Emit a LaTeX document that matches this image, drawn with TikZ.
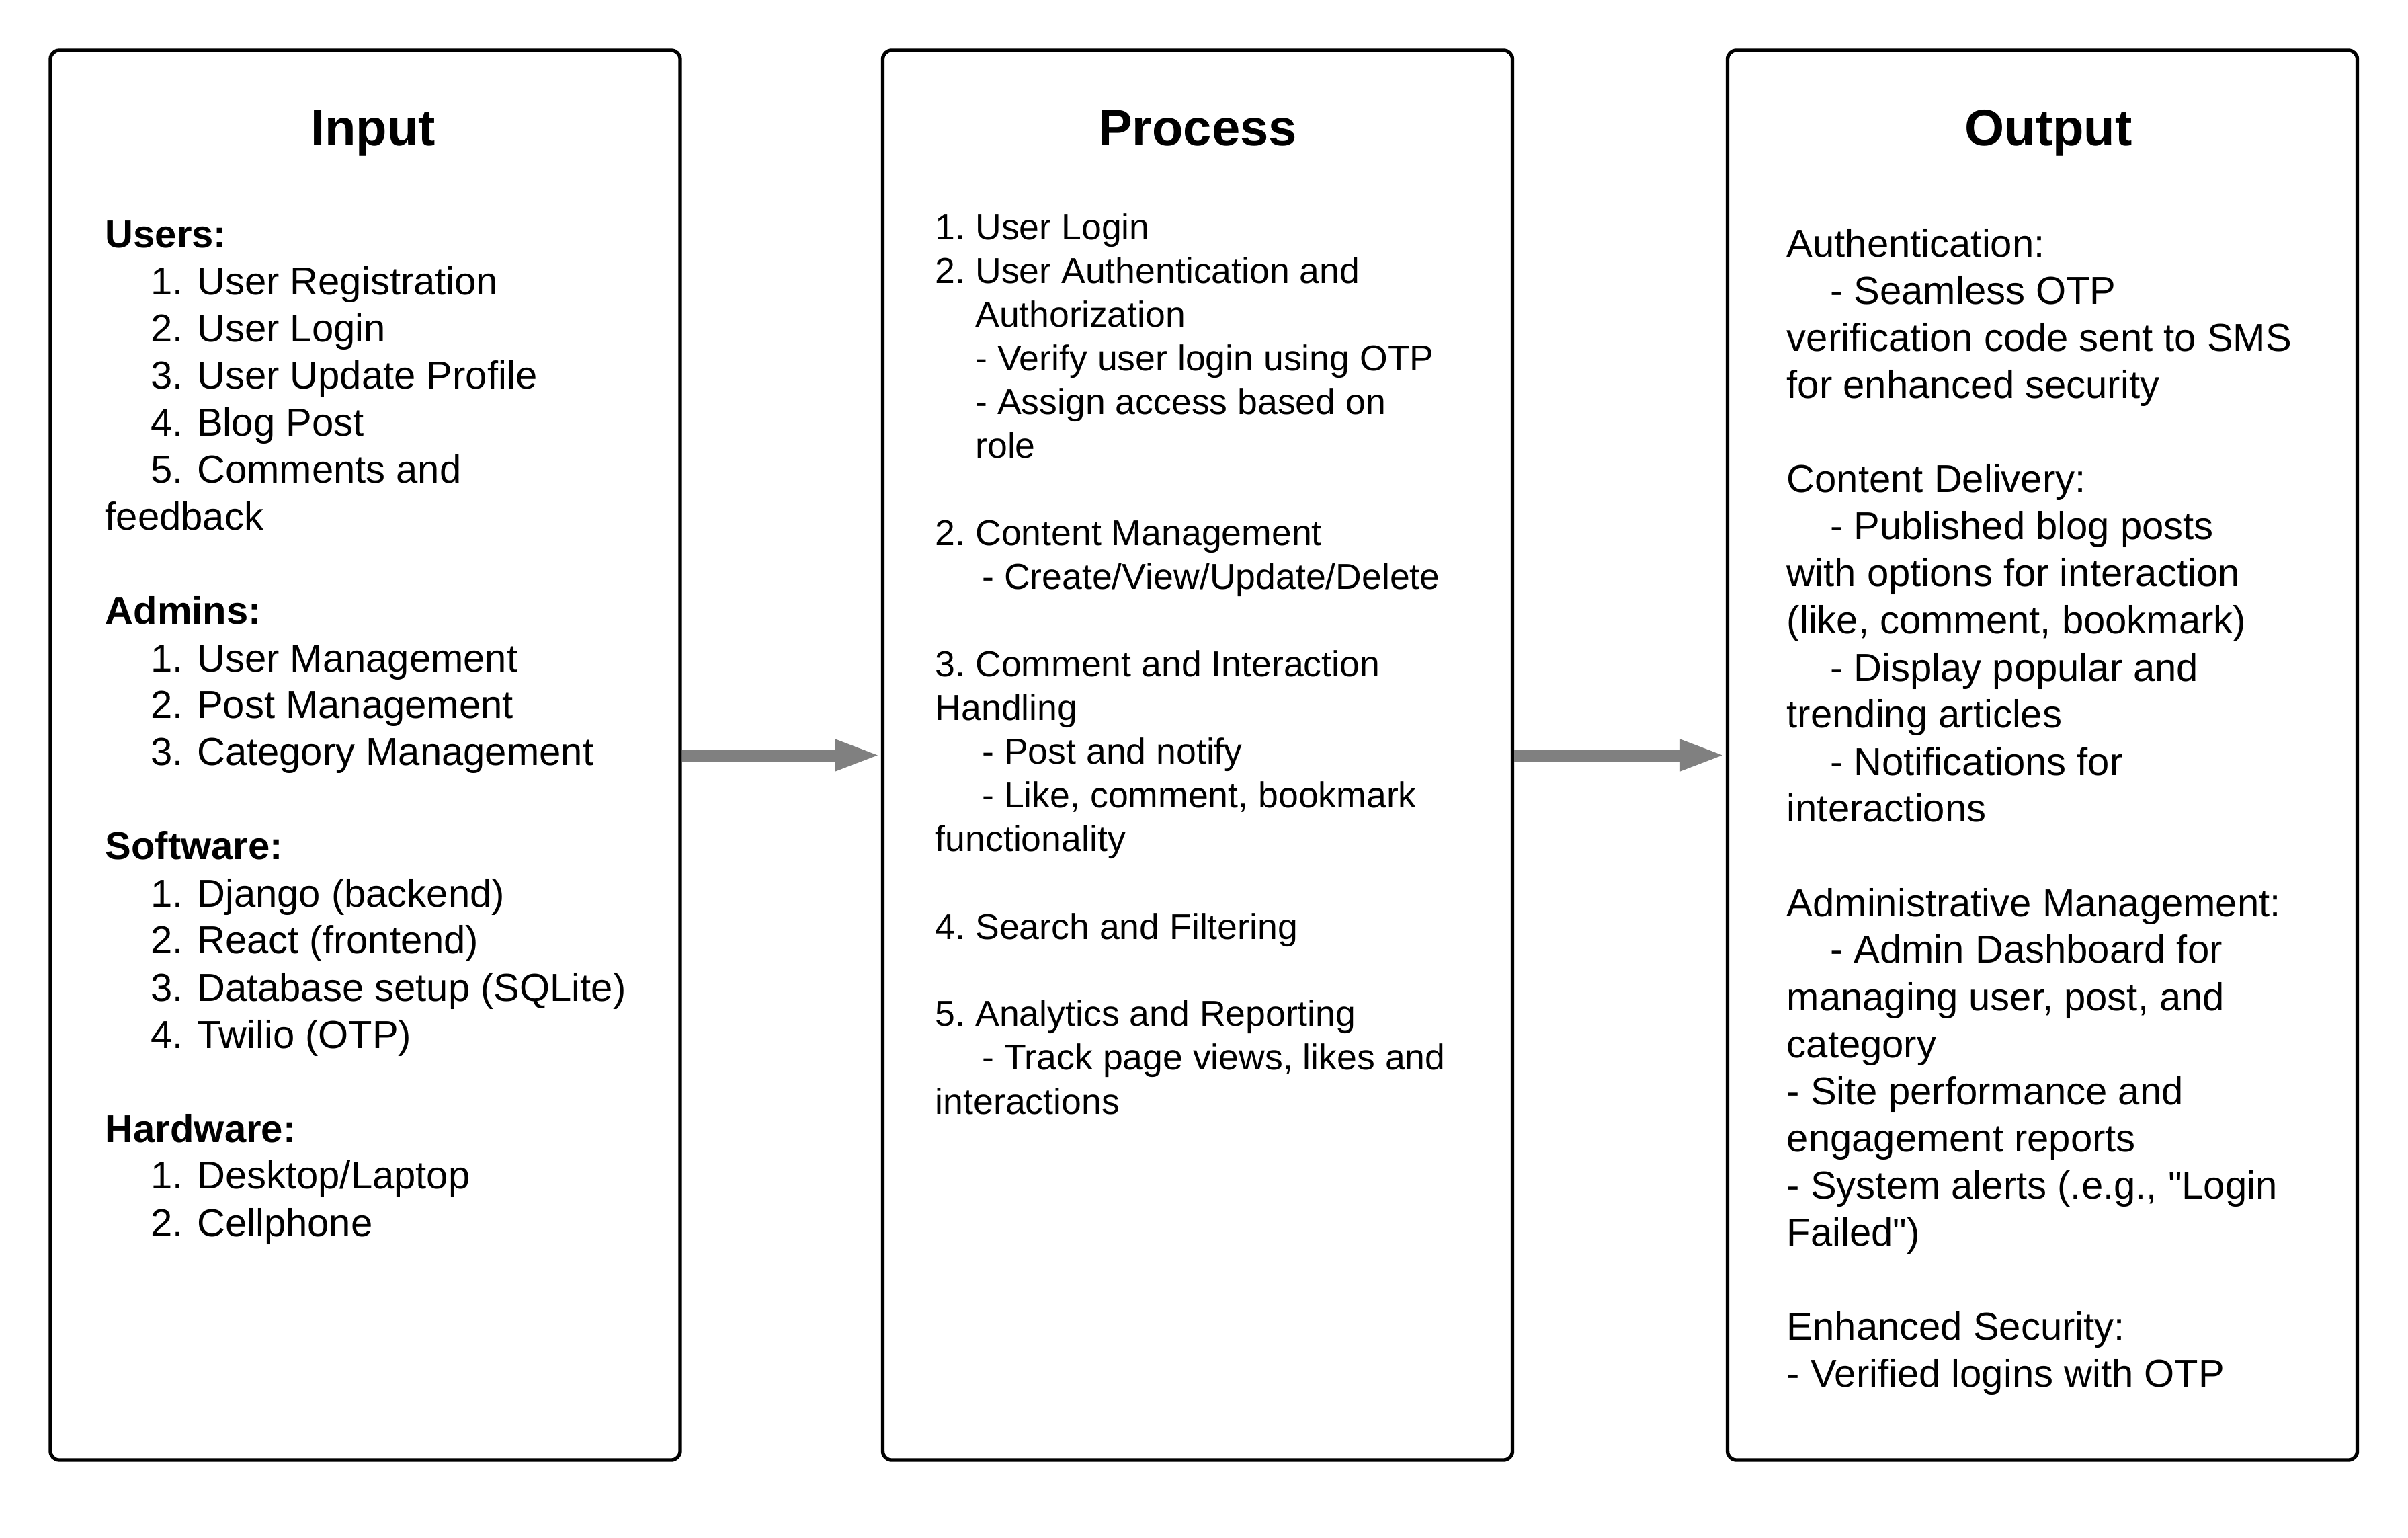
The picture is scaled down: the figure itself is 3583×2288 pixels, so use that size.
\documentclass[tikz,border=0pt]{standalone}
\usepackage{fontspec}
\setmainfont{Liberation Sans}
\usetikzlibrary{arrows.meta}
\definecolor{arrowgray}{RGB}{128,128,128}
\newcommand{\tline}[1]{\hbox{#1}}
\newcommand{\indA}{\kern4\fontdimen2\font}
\newcommand{\indB}{\kern17.4pt}
\newcommand{\indC}{\kern16.8pt}
\newcommand{\nsp}{\kern1.2pt}
\newcommand{\sq}{\XeTeXglyph\XeTeXcharglyph"22\relax}
\begin{document}
\frenchspacing
\begin{tikzpicture}[x=0.25pt,y=-0.25pt,
  panel/.style={draw=black, line width=1.33pt, rounded corners=3.3pt,
    minimum width=234.25pt, minimum height=524.25pt, inner sep=0pt},
  paneltitle/.style={anchor=base, inner sep=0pt, font=\bfseries\fontsize{19pt}{23pt}\selectfont},
  bodytext/.style={anchor=base west, inner sep=0pt},
  flow/.style={draw=arrowgray, line width=4.5pt, -{Triangle[length=17pt,width=10.5pt]}}]
\useasboundingbox (0,0) rectangle (3583,2288);

\node[panel] (inbox) at (543.5,1123.5) {};
\node[panel] (procbox) at (1782,1123.5) {};
\node[panel] (outbox) at (3039,1123.5) {};

\node[paneltitle] (intitle) at (555,217) {Input};
\node[paneltitle] (proctitle) at (1782,217) {Process};
\node[paneltitle] (outtitle) at (3048,217) {Output};

\node[bodytext] (inbody) at (156,369) {\fontsize{14.5pt}{17.5pt}\selectfont\frenchspacing\vtop{\lineskiplimit=-100pt
  \tline{\textbf{Users:}}
  \tline{\indC 1.\nsp{} User Registration}
  \tline{\indC 2.\nsp{} User Login}
  \tline{\indC 3.\nsp{} User Update Profile}
  \tline{\indC 4.\nsp{} Blog Post}
  \tline{\indC 5.\nsp{} Comments and}
  \tline{feedback}
  \tline{}
  \tline{\textbf{Admins:}}
  \tline{\indC 1.\nsp{} User Management}
  \tline{\indC 2.\nsp{} Post Management}
  \tline{\indC 3.\nsp{} Category Management}
  \tline{}
  \tline{\textbf{Software:}}
  \tline{\indC 1.\nsp{} Django (backend)}
  \tline{\indC 2.\nsp{} React (frontend)}
  \tline{\indC 3.\nsp{} Database setup (SQLite)}
  \tline{\indC 4.\nsp{} Twilio (OTP)}
  \tline{}
  \tline{\textbf{Hardware:}}
  \tline{\indC 1.\nsp{} Desktop/Laptop}
  \tline{\indC 2.\nsp{} Cellphone}}};

\node[bodytext] (procbody) at (1391,357) {\fontsize{13.4pt}{16.25pt}\selectfont\frenchspacing\vtop{\lineskiplimit=-100pt
  \tline{1. User Login}
  \tline{2. User Authentication and}
  \tline{\indA Authorization}
  \tline{\indA - Verify user login using OTP}
  \tline{\indA - Assign access based on}
  \tline{\indA role}
  \tline{}
  \tline{2. Content Management}
  \tline{\indB - Create/View/Update/Delete}
  \tline{}
  \tline{3. Comment and Interaction}
  \tline{Handling}
  \tline{\indB - Post and notify}
  \tline{\indB - Like, comment, bookmark}
  \tline{functionality}
  \tline{}
  \tline{4. Search and Filtering}
  \tline{}
  \tline{5. Analytics and Reporting}
  \tline{\indB - Track page views, likes and}
  \tline{interactions}}};

\node[bodytext] (outbody) at (2658,383) {\fontsize{14.5pt}{17.5pt}\selectfont\frenchspacing\vtop{\lineskiplimit=-100pt
  \tline{Authentication:}
  \tline{\indA - Seamless OTP}
  \tline{verification code sent to SMS}
  \tline{for enhanced security}
  \tline{}
  \tline{Content Delivery:}
  \tline{\indA - Published blog posts}
  \tline{with options for interaction}
  \tline{(like, comment, bookmark)}
  \tline{\indA - Display popular and}
  \tline{trending articles}
  \tline{\indA - Notifications for}
  \tline{interactions}
  \tline{}
  \tline{Administrative Management:}
  \tline{\indA - Admin Dashboard for}
  \tline{managing user, post, and}
  \tline{category}
  \tline{- Site performance and}
  \tline{engagement reports}
  \tline{- System alerts (.e.g., \sq Login}
  \tline{Failed\sq)}
  \tline{}
  \tline{Enhanced Security:}
  \tline{- Verified logins with OTP}}};

\draw[flow] (inbox.east) -- (procbox.west);
\draw[flow] (procbox.east) -- (outbox.west);
\end{tikzpicture}
\end{document}
